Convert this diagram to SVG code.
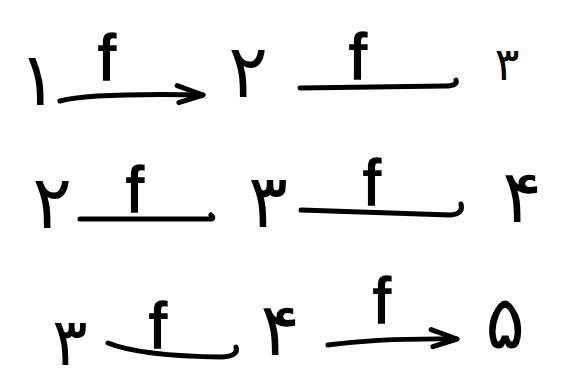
<svg xmlns="http://www.w3.org/2000/svg" width="562" height="382" viewBox="0 0 562 382">
<defs>
<style>
.num{font-family:"DejaVu Sans","Noto Sans",sans-serif;font-size:74px;fill:#000;text-anchor:middle}
.lbl{font-family:"Liberation Sans","DejaVu Sans",sans-serif;font-size:64px;fill:#000;stroke:#000;stroke-width:1.5;text-anchor:middle}
.edge{fill:none;stroke:#000;stroke-width:5;stroke-linecap:round;stroke-linejoin:round}
</style>
<marker id="head" viewBox="-20 -12 24 24" refX="0" refY="0" markerWidth="24" markerHeight="24" markerUnits="userSpaceOnUse" orient="auto" overflow="visible">
<path d="M-26,-9 L0,0 L-24,8" fill="none" stroke="#000" stroke-width="5" stroke-linecap="round" stroke-linejoin="round"/>
</marker>
</defs>
<rect width="562" height="382" fill="#fff"/>
<g id="connectors">
<path class="edge" d="M60,101 Q90,93 203,95" marker-end="url(#head)"/>
<path class="edge" d="M300,88 L445,86 Q458,86 456,80"/>
<path class="edge" d="M80,219 L212,219 Q214,217 211,215"/>
<path class="edge" d="M301,210 L450,215 Q464,214 461,204"/>
<path class="edge" d="M108,343 Q140,356 222,357 Q239,356 236,347"/>
<path class="edge" d="M328,345 Q380,338 457,339" marker-end="url(#head)"/>
</g>
<g id="n1-1"><text class="num" x="38" y="105">۱</text></g>
<g id="n1-2"><text class="num" x="248" y="97">۲</text></g>
<g id="n1-3"><text class="num" x="507" y="80" style="font-size:46px">۳</text></g>
<g id="n2-2"><text class="num" x="52" y="228">۲</text></g>
<g id="n2-3"><text class="num" x="268" y="227">۳</text></g>
<g id="n2-4"><text class="num" x="522" y="222">۴</text></g>
<g id="n3-3"><text class="num" x="70" y="365" style="font-size:66px">۳</text></g>
<g id="n3-4"><text class="num" x="280" y="355">۴</text></g>
<g id="n3-5"><text class="num" x="505" y="348">۵</text></g>
<g id="labels">
<text class="lbl" x="107" y="80">f</text>
<text class="lbl" x="358" y="79">f</text>
<text class="lbl" x="135" y="212">f</text>
<text class="lbl" x="372" y="205">f</text>
<text class="lbl" x="158" y="348">f</text>
<text class="lbl" x="382" y="323">f</text>
</g>
</svg>
